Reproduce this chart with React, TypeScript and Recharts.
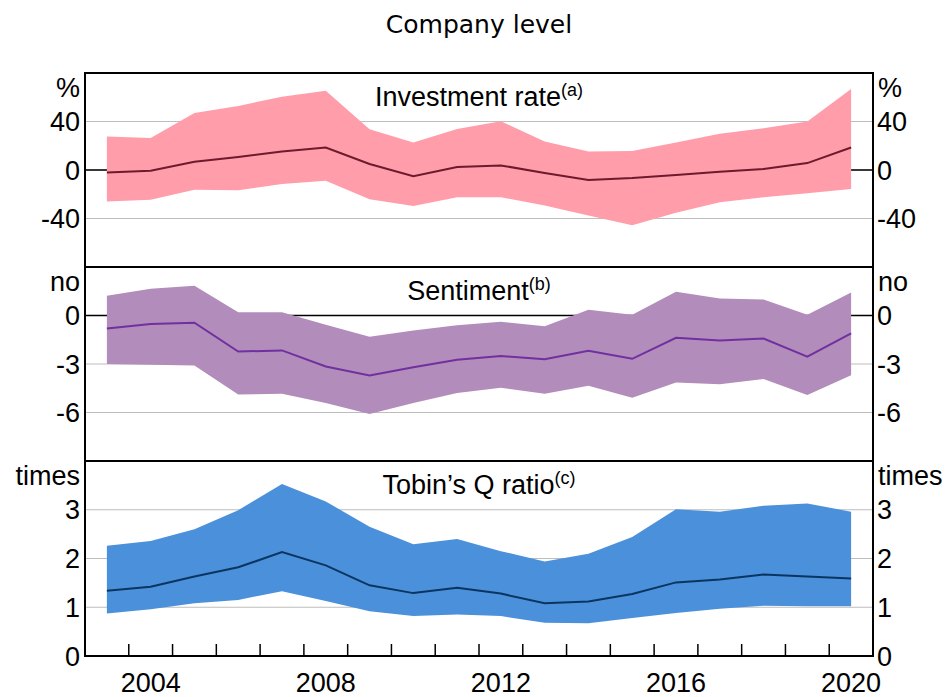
import React from 'react';
import { ComposedChart, Area, Line, XAxis, YAxis, CartesianGrid, ReferenceArea } from 'recharts';

const years = [2003, 2004, 2005, 2006, 2007, 2008, 2009, 2010, 2011, 2012, 2013, 2014, 2015, 2016, 2017, 2018, 2019, 2020];
const xLabelTicks = [2004, 2008, 2012, 2016, 2020];
const xDomain: [number, number] = [2002.5, 2020.5];
const xBoundaryTicks = years.slice(1).map((y) => y - 0.5);
const xAllTicks = [...xBoundaryTicks, ...xLabelTicks].sort((a, b) => a - b);

const invUpper = [27.6, 26.3, 47, 52.8, 60.5, 65.4, 33.7, 22.7, 33.9, 40.2, 23.5, 15.3, 15.6, 22.7, 30, 34.5, 40, 66.8];
const invMedian = [-2, -0.6, 6.8, 10.7, 15.3, 18.6, 4.9, -5.2, 2.5, 3.8, -2.5, -8.2, -6.6, -4.1, -1.4, 0.8, 5.7, 18.6];
const invLower = [-26, -24.6, -16.2, -16.7, -11.5, -8.8, -24.1, -29.6, -22.5, -22.5, -29.3, -37.5, -45.5, -35.3, -26.6, -22.5, -19.2, -15.6];
const invTicks = [-40, 0, 40];
const invDomain: [number, number] = [-80, 80];

const sentUpper = [1.22, 1.65, 1.84, 0.2, 0.2, -0.57, -1.32, -0.93, -0.6, -0.39, -0.66, 0.35, 0.04, 1.47, 1.05, 0.99, 0.04, 1.42];
const sentMedian = [-0.8, -0.53, -0.45, -2.23, -2.16, -3.15, -3.71, -3.2, -2.74, -2.51, -2.7, -2.18, -2.68, -1.38, -1.54, -1.42, -2.55, -1.11];
const sentLower = [-3.0, -3.05, -3.1, -4.88, -4.84, -5.42, -6.1, -5.42, -4.8, -4.47, -4.84, -4.35, -5.09, -4.14, -4.26, -3.93, -4.92, -3.69];
const sentTicks = [-6, -3, 0];
const sentDomain: [number, number] = [-9, 3];

const tobinUpper = [2.26, 2.36, 2.6, 2.99, 3.53, 3.17, 2.65, 2.29, 2.4, 2.15, 1.94, 2.1, 2.44, 3.01, 2.96, 3.08, 3.13, 2.96];
const tobinMedian = [1.34, 1.42, 1.63, 1.82, 2.13, 1.86, 1.45, 1.29, 1.4, 1.28, 1.08, 1.12, 1.27, 1.51, 1.57, 1.67, 1.63, 1.59];
const tobinLower = [0.87, 0.96, 1.08, 1.15, 1.33, 1.13, 0.92, 0.82, 0.85, 0.82, 0.68, 0.67, 0.78, 0.88, 0.97, 1.03, 1.02, 1.02];
const tobinTicks = [0, 1, 2, 3];
const tobinDomain: [number, number] = [0, 4];

const FONT = "'Liberation Sans', Arial, sans-serif";
const tickStyle = { fill: '#000', fontSize: 27, fontFamily: FONT };

const buildRows = (lo: number[], mid: number[], hi: number[]) =>
  years.map((y, i) => ({ year: y, band: [lo[i], hi[i]], mid: mid[i] }));

const XTick = (props: any) => {
  const { x, y, payload } = props;
  const v = payload && payload.value;
  if (!Number.isInteger(v)) {
    return <line x1={x} x2={x} y1={y} y2={y - 12} stroke="#000" strokeWidth={1.5} />;
  }
  return (
    <text x={x} y={y + 17} dy="0.71em" textAnchor="middle" fontFamily={FONT} fontSize={27} fill="#000">
      {v}
    </text>
  );
};

const PanelTitle = (props: any) => {
  const { viewBox, title, sup } = props;
  if (!viewBox) return null;
  const cx = viewBox.x + viewBox.width / 2;
  const y = viewBox.y + 33;
  return (
    <text x={cx} y={y} textAnchor="middle" fontFamily={FONT} fontSize={27} fill="#000">
      {title}
      <tspan fontSize={18} dy={-10}>{sup}</tspan>
    </text>
  );
};

type PanelProps = {
  plotTop: number;
  plotHeight: number;
  rows: any[];
  domain: [number, number];
  ticks: number[];
  unit: string;
  title: string;
  sup: string;
  fill: string;
  stroke: string;
  showX?: boolean;
};

const Panel = ({ plotTop, plotHeight, rows, domain, ticks, unit, title, sup, fill, stroke, showX }: PanelProps) => {
  const mt = 20;
  const mb = showX ? 0 : 10;
  const xh = showX ? 41 : 0;
  const height = mt + plotHeight + mb + xh;
  return (
    <div style={{ position: 'absolute', left: 0, top: plotTop - mt }}>
      <ComposedChart width={949} height={height} data={rows} margin={{ top: mt, right: 0, bottom: mb, left: 0 }}>
        <CartesianGrid vertical={false} stroke="#BDBDBD" strokeWidth={1} />
        {domain[0] < 0 && <CartesianGrid vertical={false} horizontalValues={[0]} stroke="#000" strokeWidth={1.5} />}
        {showX ? (
          <XAxis
            dataKey="year"
            type="number"
            domain={xDomain}
            allowDataOverflow
            ticks={xAllTicks}
            interval={0}
            tickLine={false}
            axisLine={false}
            tickSize={0}
            tickMargin={0}
            height={xh}
            tick={<XTick />}
          />
        ) : (
          <XAxis dataKey="year" type="number" domain={xDomain} allowDataOverflow hide />
        )}
        <YAxis
          domain={domain}
          allowDataOverflow
          ticks={ticks}
          interval={0}
          width={85}
          tickLine={false}
          axisLine={false}
          tickSize={0}
          tickMargin={5}
          tick={tickStyle}
          label={{ value: unit, position: 'insideTopRight', offset: 5, fontSize: 27, fill: '#000', fontFamily: FONT }}
        />
        <YAxis
          yAxisId="r"
          orientation="right"
          domain={domain}
          allowDataOverflow
          ticks={ticks}
          interval={0}
          width={76}
          tickLine={false}
          axisLine={false}
          tickSize={0}
          tickMargin={4}
          tick={{ ...tickStyle, textAnchor: 'start' }}
          label={{ value: unit, position: 'insideTopLeft', offset: 5, fontSize: 27, fill: '#000', fontFamily: FONT }}
        />
        <Area
          dataKey="band"
          stroke="none"
          fill={fill}
          fillOpacity={1}
          isAnimationActive={false}
          activeDot={false}
          dot={false}
        />
        <Line
          dataKey="mid"
          stroke={stroke}
          strokeWidth={2}
          dot={false}
          activeDot={false}
          isAnimationActive={false}
        />
        <ReferenceArea
          x1={xDomain[0]}
          x2={xDomain[1]}
          y1={domain[0]}
          y2={domain[1]}
          fill="none"
          fillOpacity={0}
          stroke="#000"
          strokeWidth={2}
          ifOverflow="visible"
          label={<PanelTitle title={title} sup={sup} />}
        />
      </ComposedChart>
    </div>
  );
};

export default function App() {
  return (
    <div style={{ position: 'absolute', left: 0, top: 0, width: 949, height: 697, background: '#fff', overflow: 'hidden' }}>
      <svg width={949} height={45} style={{ position: 'absolute', left: 0, top: 0 }}>
        <text x={479} y={33} textAnchor="middle" fontFamily="'DejaVu Sans', Verdana, sans-serif" fontSize={25} fill="#000">
          Company level
        </text>
      </svg>
      <Panel
        plotTop={73}
        plotHeight={194}
        rows={buildRows(invLower, invMedian, invUpper)}
        domain={invDomain}
        ticks={invTicks}
        unit="%"
        title="Investment rate"
        sup="(a)"
        fill="#FF9DAA"
        stroke="#6E1A2C"
      />
      <Panel
        plotTop={267}
        plotHeight={194}
        rows={buildRows(sentLower, sentMedian, sentUpper)}
        domain={sentDomain}
        ticks={sentTicks}
        unit="no"
        title="Sentiment"
        sup="(b)"
        fill="#B28CBA"
        stroke="#7030A0"
      />
      <Panel
        plotTop={461}
        plotHeight={195}
        rows={buildRows(tobinLower, tobinMedian, tobinUpper)}
        domain={tobinDomain}
        ticks={tobinTicks}
        unit="times"
        title="Tobin’s Q ratio"
        sup="(c)"
        fill="#4A90DA"
        stroke="#0B3561"
        showX
      />
    </div>
  );
}
